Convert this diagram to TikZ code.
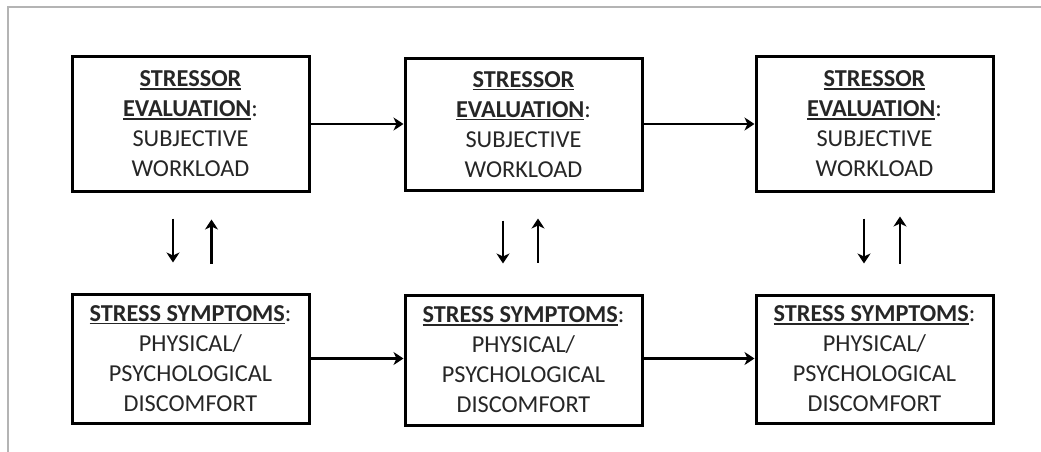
\documentclass[tikz,border=0pt]{standalone}
\usepackage{fontspec}
\setmainfont{Carlito}
\usetikzlibrary{arrows.meta}
\definecolor{framegray}{HTML}{B4B4B4}
\definecolor{bodytext}{HTML}{262626}
% bold heading with a thick underline below the baseline
\newcommand{\ulbox}[1]{\setbox0\hbox{\bfseries #1}\leavevmode\rlap{\rule[-3pt]{\wd0}{1.5pt}}\box0}
\tikzset{
  stage/.style={draw=black, line width=3pt, minimum width=237pt, align=center,
    inner sep=0pt, text=bodytext, font=\fontsize{24.3}{30}\selectfont},
  flow/.style={line width=2.6pt, -{Stealth[length=10pt, width=13pt, inset=3pt]}},
}
\begin{document}
\begin{tikzpicture}[x=1pt, y=-1pt]
\useasboundingbox (0,0) rectangle (1041,452);
\fill[white] (0,0) rectangle (1041,452);
% page frame
\draw[framegray, line width=2pt] (8,452) -- (8,7) -- (1041,7);

% upper row: stressor evaluation
\node[stage, minimum height=134pt] (t1) at (190.5,124)
  {\ulbox{STRESSOR}\\\ulbox{EVALUATION}:\\SUBJECTIVE\\WORKLOAD};
\node[stage, minimum height=131pt] (t2) at (523.5,124.5)
  {\ulbox{STRESSOR}\\\ulbox{EVALUATION}:\\SUBJECTIVE\\WORKLOAD};
\node[stage, minimum height=134pt] (t3) at (874.5,124)
  {\ulbox{STRESSOR}\\\ulbox{EVALUATION}:\\SUBJECTIVE\\WORKLOAD};

% lower row: stress symptoms
\node[stage, minimum height=129pt] (b1) at (190.5,358.5)
  {\ulbox{STRESS SYMPTOMS}:\\PHYSICAL/\\PSYCHOLOGICAL\\DISCOMFORT};
\node[stage, minimum height=130pt] (b2) at (523.5,360)
  {\ulbox{STRESS SYMPTOMS}:\\PHYSICAL/\\PSYCHOLOGICAL\\DISCOMFORT};
\node[stage, minimum height=128pt] (b3) at (874.5,359)
  {\ulbox{STRESS SYMPTOMS}:\\PHYSICAL/\\PSYCHOLOGICAL\\DISCOMFORT};

% progression over time
\draw[flow] (t1.east) -- (t1.east -| t2.west);
\draw[flow] (t2.east |- t1.east) -- (t1.east -| t3.west);
\draw[flow] (b1.east) -- (b1.east -| b2.west);
\draw[flow] (b2.east |- b1.east) -- (b1.east -| b3.west);

% mutual influence between evaluation and symptoms
\draw[flow, shorten <=26pt, shorten >=30pt] ([xshift=-17.5pt]t1.south) -- ([xshift=-17.5pt]t1.south |- b1.north);
\draw[flow, shorten <=29pt, shorten >=27pt] ([xshift=21pt]t1.south |- b1.north) -- ([xshift=21pt]t1.south);
\draw[flow, shorten <=29pt, shorten >=30pt] ([xshift=-20.5pt]t2.south) -- ([xshift=-20.5pt]t2.south |- b2.north);
\draw[flow, shorten <=31pt, shorten >=27pt] ([xshift=14.5pt]t2.south |- b2.north) -- ([xshift=14.5pt]t2.south);
\draw[flow, shorten <=26pt, shorten >=30pt] ([xshift=-10.5pt]t3.south) -- ([xshift=-10.5pt]t3.south |- b3.north);
\draw[flow, shorten <=30pt, shorten >=24pt] ([xshift=25.5pt]t3.south |- b3.north) -- ([xshift=25.5pt]t3.south);
\end{tikzpicture}
\end{document}
